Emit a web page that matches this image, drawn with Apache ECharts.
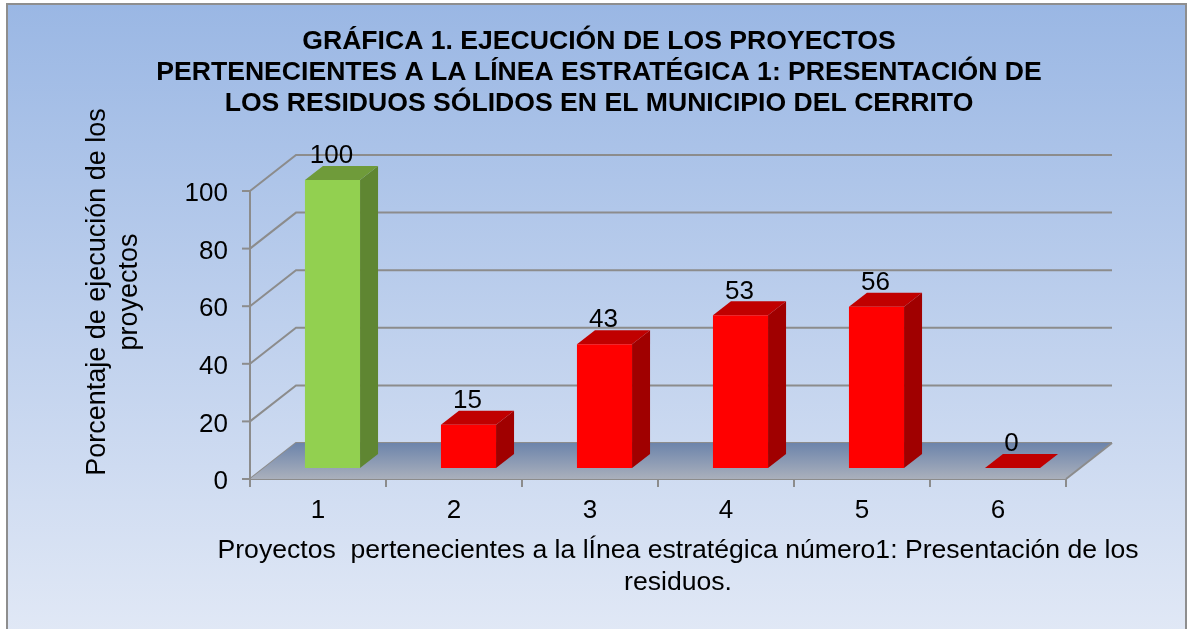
<!DOCTYPE html>
<html>
<head>
<meta charset="utf-8">
<style>
  html, body { margin: 0; padding: 0; background: #fff; }
  #chart { width: 1188px; height: 629px; }
</style>
<script src="https://cdn.jsdelivr.net/npm/echarts@6/dist/echarts.min.js"></script>
</head>
<body>
<div id="chart"></div>
<script>
const categories = ['1', '2', '3', '4', '5', '6']
const values = [100, 15, 43, 53, 56, 0]
const yTicks = [0, 20, 40, 60, 80, 100]

const titleText = 'GRÁFICA 1. EJECUCIÓN DE LOS PROYECTOS\nPERTENECIENTES A LA LÍNEA ESTRATÉGICA 1: PRESENTACIÓN DE\nLOS RESIDUOS SÓLIDOS EN EL MUNICIPIO DEL CERRITO'
const yName = 'Porcentaje de ejecución de los\nproyectos'
const xName = 'Proyectos  pertenecientes a la lÍnea estratégica número1: Presentación de los\nresiduos.'

// fake 3d offsets, in pixels
const wallDx = 46
const wallDy = -36
const barDx = 18
const barDy = -14
const barShiftX = 14.5
const barShiftY = -11
const tickLen = 8
const gridColor = '#8c8c8c'
const fontName = '"Liberation Sans", Arial, sans-serif'

const green = { front: '#92d050', top: '#6f9b3a', side: '#5f8632' }
const red = { front: '#ff0000', top: '#c00000', side: '#a00000' }

function poly(points, fill) {
  return { type: 'polygon', shape: { points: points }, style: { fill: fill } }
}

// each y tick: diagonal up the side wall, line along the back wall
function renderWall(params, api) {
  const p = api.coord([0, api.value(0)])
  const x0 = params.coordSys.x
  const x1 = x0 + params.coordSys.width
  return {
    type: 'polyline',
    shape: { points: [[x0, p[1]], [x0 + wallDx, p[1] + wallDy], [x1 + wallDx, p[1] + wallDy]] },
    style: { stroke: gridColor, lineWidth: 2, fill: null }
  }
}

// front vertical axis with its outer ticks
function renderFrontAxis(params, api) {
  const p = api.coord([0, api.value(0)])
  const x0 = params.coordSys.x
  const top = api.coord([0, yTicks[yTicks.length - 1]])[1]
  const bottom = api.coord([0, yTicks[0]])[1]
  return {
    type: 'group',
    children: [
      { type: 'line', shape: { x1: x0 - tickLen, y1: p[1], x2: x0, y2: p[1] }, style: { stroke: gridColor, lineWidth: 2 } },
      { type: 'line', shape: { x1: x0, y1: bottom, x2: x0, y2: top }, style: { stroke: gridColor, lineWidth: 2 } }
    ]
  }
}

function renderFloor(params, api) {
  const y = api.coord([0, 0])[1]
  const x0 = params.coordSys.x
  const x1 = x0 + params.coordSys.width
  return {
    type: 'group',
    children: [
      {
        type: 'polygon',
        shape: { points: [[x0, y], [x0 + wallDx, y + wallDy], [x1 + wallDx, y + wallDy], [x1, y]] },
        style: {
          fill: new echarts.graphic.LinearGradient(0, 0, 0, 1, [
            { offset: 0, color: '#6c84ab' },
            { offset: 1, color: '#aab0bc' }
          ])
        }
      },
      {
        type: 'line',
        shape: { x1: x1, y1: y, x2: x1 + wallDx, y2: y + wallDy },
        style: { stroke: gridColor, lineWidth: 2 }
      }
    ]
  }
}

function renderBar(params, api) {
  const idx = api.value(0)
  const val = api.value(1)
  const base = api.coord([idx, 0])
  const head = api.coord([idx, val])
  const w = api.size([1, 0])[0] * 0.405
  const left = base[0] + barShiftX - w / 2
  const right = left + w
  const bottom = base[1] + barShiftY
  const top = head[1] + barShiftY
  const c = val >= 100 ? green : red
  return {
    type: 'group',
    children: [
      poly([[right, top], [right + barDx, top + barDy], [right + barDx, bottom + barDy], [right, bottom]], c.side),
      poly([[left, top], [left + barDx, top + barDy], [right + barDx, top + barDy], [right, top]], c.top),
      { type: 'rect', shape: { x: left, y: top, width: w, height: bottom - top }, style: { fill: c.front } },
      {
        type: 'text',
        style: {
          x: (left + right) / 2 - 1,
          y: top + barDy + 3,
          text: String(val),
          fill: '#000',
          font: '26px ' + fontName,
          align: 'center',
          verticalAlign: 'bottom'
        }
      }
    ]
  }
}

const chart = echarts.init(document.getElementById('chart'), null, { renderer: 'canvas' })
chart.setOption({
  animation: false,
  textStyle: { fontFamily: fontName },
  graphic: [{
    type: 'rect',
    z: -10,
    silent: true,
    shape: { x: 7, y: 4, width: 1179, height: 640 },
    style: {
      fill: new echarts.graphic.LinearGradient(0, 0, 0, 1, [
        { offset: 0, color: '#9ab7e4' },
        { offset: 1, color: '#e2e9f6' }
      ]),
      stroke: '#8e8e8e',
      lineWidth: 2
    }
  }],
  title: {
    text: titleText,
    left: 594,
    top: 21,
    textAlign: 'center',
    textStyle: { fontSize: 26.6, fontWeight: 'bold', color: '#000', lineHeight: 31, fontFamily: fontName }
  },
  grid: { left: 250, right: 122, top: 191, bottom: 150 },
  xAxis: {
    type: 'category',
    data: categories,
    name: xName,
    nameLocation: 'middle',
    nameGap: 56,
    nameTextStyle: { fontSize: 26.6, color: '#000', lineHeight: 32, align: 'center', padding: [0, 0, 0, 40] },
    axisLine: { show: true, lineStyle: { color: gridColor, width: 2 } },
    axisTick: { show: true, length: tickLen, lineStyle: { color: gridColor, width: 2 } },
    axisLabel: { fontSize: 26, color: '#000', margin: 19 },
    splitLine: { show: false }
  },
  yAxis: {
    type: 'value',
    min: 0,
    max: 100,
    interval: 20,
    name: yName,
    nameLocation: 'middle',
    nameGap: 104,
    nameTextStyle: { fontSize: 27, color: '#000', lineHeight: 32, align: 'center', padding: [0, 0, 0, 86] },
    axisLine: { show: false },
    axisTick: { show: false },
    axisLabel: {
      color: '#000',
      margin: 22,
      formatter: '{t|{value}}',
      rich: { t: { fontSize: 26, color: '#000', padding: [6, 0, 0, 0] } }
    },
    splitLine: { show: false }
  },
  series: [
    { type: 'custom', name: 'wall', z: 1, silent: true, clip: false, data: yTicks.map(v => [v]), encode: { y: 0 }, renderItem: renderWall },
    { type: 'custom', name: 'floor', z: 2, silent: true, clip: false, data: [[0]], encode: { y: 0 }, renderItem: renderFloor },
    { type: 'custom', name: 'bars', z: 3, silent: true, clip: false, data: values.map((v, i) => [i, v]), encode: { x: 0, y: 1 }, renderItem: renderBar },
    { type: 'custom', name: 'frontAxis', z: 4, silent: true, clip: false, data: yTicks.map(v => [v]), encode: { y: 0 }, renderItem: renderFrontAxis }
  ]
})
</script>
</body>
</html>
